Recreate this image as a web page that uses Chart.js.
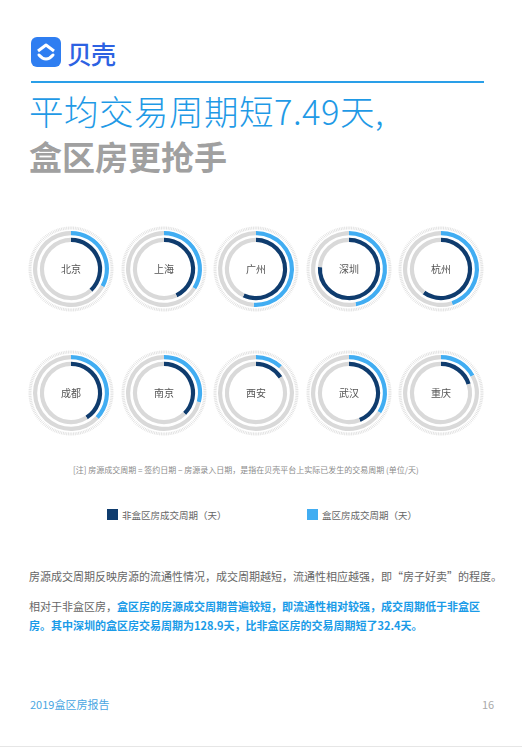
<!DOCTYPE html>
<html lang="zh">
<head>
<meta charset="UTF-8">
<title>平均交易周期</title>
<script src="https://cdn.jsdelivr.net/npm/chart.js"></script>
<style>
    body { margin: 0; background: #fff; font-family: "Noto Sans CJK SC", sans-serif; }
    .page { position: relative; width: 522px; height: 749px; overflow: hidden; }
    .abs { position: absolute; white-space: nowrap; }
    .ring { position: absolute; width: 90px; height: 90px; }
    .sq { display: inline-block; width: 11px; height: 11px; vertical-align: -1px; margin-right: 4px; }
</style>
</head>
<body>
<div class="page">
    <!-- header -->
    <svg class="abs" style="left:31px;top:37px" width="30" height="30" viewBox="0 0 30 30">
        <rect width="30" height="30" rx="6" fill="#2f7ef1"/>
        <path d="M7 14 L15 8 L23 14" fill="none" stroke="#fff" stroke-width="3" stroke-linejoin="round"/>
        <path d="M8 18 Q15 26 22 18" fill="none" stroke="#fff" stroke-width="3" stroke-linecap="round"/>
    </svg>
    <div class="abs" style="left:67px;top:35px;font-size:25px;color:#2d62e2;font-weight:500;letter-spacing:-1px">贝壳</div>
    <div class="abs" style="left:31px;top:81px;width:453px;height:2px;background:#2a9fe8"></div>
    <div class="abs" style="left:29px;top:88px;font-size:34.5px;color:#1f9ae6;line-height:44px;font-weight:300;letter-spacing:0.5px">平均交易周期短7.49天,</div>
    <div class="abs" style="left:29px;top:134px;font-size:33px;color:#a0a0a0;font-weight:700;line-height:44px">盒区房更抢手</div>

    <div id="rings"></div>

    <div class="abs" style="left:73px;top:464px;font-size:8px;color:#8a8a8a">[注] 房源成交周期 = 签约日期 − 房源录入日期，是指在贝壳平台上实际已发生的交易周期 (单位/天)</div>

    <div class="abs" style="left:107px;top:508px;font-size:9.5px;color:#666"><span class="sq" style="background:#0f3c6e"></span>非盒区房成交周期（天）</div>
    <div class="abs" style="left:307px;top:508px;font-size:9.5px;color:#666"><span class="sq" style="background:#41adf2"></span>盒区房成交周期（天）</div>

    <div class="abs" style="left:29px;top:568px;font-size:11px;color:#666">房源成交周期反映房源的流通性情况，成交周期越短，流通性相应越强，即“房子好卖”的程度。</div>
    <div class="abs" style="left:29px;top:597px;font-size:11px;color:#666;line-height:19px">相对于非盒区房，<b style="color:#1a9be8">盒区房的房源成交周期普遍较短，即流通性相对较强，成交周期低于非盒区</b><br><b style="color:#1a9be8">房。其中深圳的盒区房交易周期为128.9天，比非盒区房的交易周期短了32.4天。</b></div>

    <div class="abs" style="left:30px;top:696px;font-size:11px;color:#4aa6e2">2019盒区房报告</div>
    <div class="abs" style="left:482px;top:696px;font-size:11px;color:#aaa">16</div>
    <div class="abs" style="left:0;top:746px;width:522px;height:1px;background:#e6e6e6"></div>
</div>

<script>
// city names, in reading order (two rows of five)
const cities = ['北京', '上海', '广州', '深圳', '杭州', '成都', '南京', '西安', '武汉', '重庆'];
// arc length as % of the full ring
const boxShare = [33, 34, 51, 47, 45, 37, 29, 12, 34, 17];        // 盒区房成交周期 (outer, light blue)
const nonBoxShare = [38, 43, 57, 76, 60, 41, 37.5, 16, 44, 20];   // 非盒区房成交周期 (inner, dark blue)

const lightBlue = '#41adf2';
const darkBlue = '#0f3c6e';
const track = '#d9d9d9';

// thin tick ring around each doughnut + city name in the middle
const decoPlugin = {
    id: 'deco',
    beforeDatasetsDraw(chart) {
        const ctx = chart.ctx;
        const meta = chart.getDatasetMeta(0).data[0];
        const cx = meta.x, cy = meta.y;
        ctx.save();
        ctx.strokeStyle = '#d6d6d6';
        ctx.lineWidth = 0.7;
        for (let k = 0; k < 150; k++) {
            const a = k / 150 * Math.PI * 2;
            ctx.beginPath();
            ctx.moveTo(cx + Math.cos(a) * 39.5, cy + Math.sin(a) * 39.5);
            ctx.lineTo(cx + Math.cos(a) * 42.5, cy + Math.sin(a) * 42.5);
            ctx.stroke();
        }
        ctx.restore();
    },
    afterDraw(chart) {
        const ctx = chart.ctx;
        const meta = chart.getDatasetMeta(0).data[0];
        ctx.save();
        ctx.font = '10px "Noto Sans CJK SC"';
        ctx.fillStyle = '#555';
        ctx.textAlign = 'center';
        ctx.textBaseline = 'middle';
        ctx.fillText(chart.options.plugins.deco.label, meta.x, meta.y);
        ctx.restore();
    }
};

const holder = document.getElementById('rings');
cities.forEach((city, i) => {
    const col = i % 5, row = Math.floor(i / 5);
    const cx = 71 + col * 92.6;
    const cy = row === 0 ? 269 : 393;

    const wrap = document.createElement('div');
    wrap.className = 'ring';
    wrap.style.left = (cx - 45) + 'px';
    wrap.style.top = (cy - 45) + 'px';
    const canvas = document.createElement('canvas');
    canvas.width = 90;
    canvas.height = 90;
    wrap.appendChild(canvas);
    document.querySelector('.page').appendChild(wrap);

    new Chart(canvas, {
        type: 'doughnut',
        data: {
            labels: [city, ''],
            datasets: [
                { label: '盒区房成交周期（天）', data: [boxShare[i], 100 - boxShare[i]], backgroundColor: [lightBlue, track], borderWidth: 0, weight: 4 },
                { label: 'gap', data: [1], backgroundColor: ['rgba(0,0,0,0)'], borderWidth: 0, weight: 2.6 },
                { label: '非盒区房成交周期（天）', data: [nonBoxShare[i], 100 - nonBoxShare[i]], backgroundColor: [darkBlue, track], borderWidth: 0, weight: 4 }
            ]
        },
        options: {
            responsive: false,
            animation: false,
            events: [],
            radius: 38,
            cutout: '71%',   // inner edge ~27px
            layout: { padding: 0 },
            plugins: {
                legend: { display: false },
                tooltip: { enabled: false },
                deco: { label: city }
            }
        },
        plugins: [decoPlugin]
    });
});
</script>
</body>
</html>
